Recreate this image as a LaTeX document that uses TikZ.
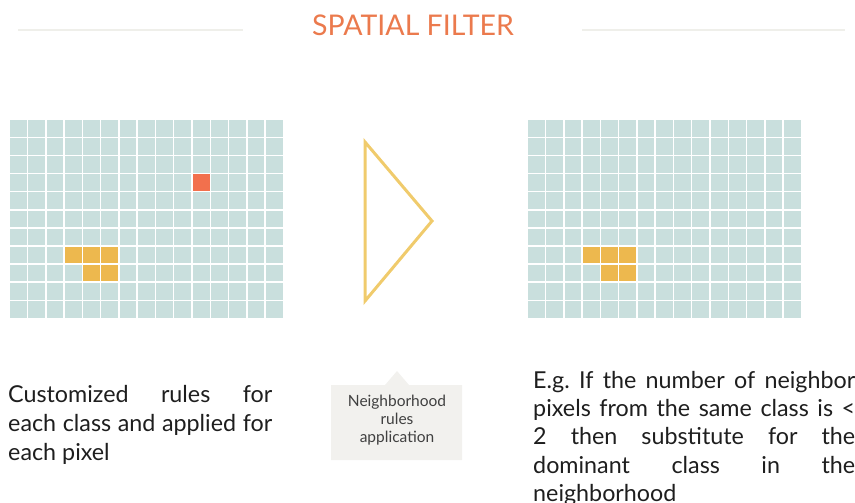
\documentclass[tikz,border=0pt]{standalone}
\usepackage{fontspec}
\setmainfont{Lato}
\frenchspacing
\definecolor{cellc}{HTML}{C9DFDD}
\definecolor{yelc}{HTML}{EDB84E}
\definecolor{redc}{HTML}{F2704D}
\definecolor{titlec}{HTML}{EB7A4D}
\definecolor{tric}{HTML}{F0CB6C}
\definecolor{boxc}{HTML}{F2F1EE}
\definecolor{rulec}{HTML}{EFEFEA}
\definecolor{txtc}{HTML}{1E1E1E}
\tikzset{
  para/.style={anchor=base west, inner sep=0pt, align=justify, text=txtc},
}
\begin{document}
\begin{tikzpicture}[x=1pt,y=-1pt]
\useasboundingbox (0,0) rectangle (855,503);
% title and rules
\node[text=titlec, font=\fontsize{28.5}{32}\selectfont, inner sep=0] (title) at (413,25) {SPATIAL FILTER};
\draw[rulec, line width=2.5pt] (18,30) -- (243,30);
\draw[rulec, line width=2.5pt] (582,30) -- (845,30);
% grids
\foreach \gx/\gn in {10/L, 528/R}{
  \foreach \i in {0,...,14}{
    \foreach \j in {0,...,10}{
      \fill[cellc] ({\gx+\i*18.27},{120+\j*18.1}) rectangle ++(16.8,16.6);
    }
  }
  \foreach \i/\j in {3/7,4/7,5/7,4/8,5/8}{
    \fill[yelc] ({\gx+\i*18.27},{120+\j*18.1}) rectangle ++(16.8,16.6);
  }
}
\fill[redc] ({10+10*18.27},{120+3*18.1}) rectangle ++(16.8,16.6);
% triangle
\coordinate (t1) at (365,142);
\coordinate (t2) at (432,221);
\coordinate (t3) at (365,301);
\draw[tric, line width=3pt, line join=miter] (t1) -- (t2) -- (t3) -- cycle;
% callout
\fill[boxc] (331,385) -- (385,385) -- (397,371) -- (409,385) -- (462,385) -- (462,460) -- (331,460) -- cycle;
\node[align=center, text=txtc!85, font=\fontsize{15.5}{18}\selectfont, inner sep=0] (callout) at (397,420) {Neighborhood\\rules\\application};
% paragraphs
\node[para, text width=264pt, font=\fontsize{23.3}{29.2}\selectfont] (lefttext) at (8,402.5) {\hyphenpenalty=10000 Customized rules for\linebreak each class and applied for\linebreak each pixel};
\node[para, text width=322pt, font=\fontsize{23.3}{28.2}\selectfont] (righttext) at (533,388.5) {\hyphenpenalty=10000 E.g. If the number of neighbor\linebreak pixels from the same class is <\linebreak 2 then substitute for the\linebreak dominant class in the\linebreak neighborhood};
\end{tikzpicture}
\end{document}
